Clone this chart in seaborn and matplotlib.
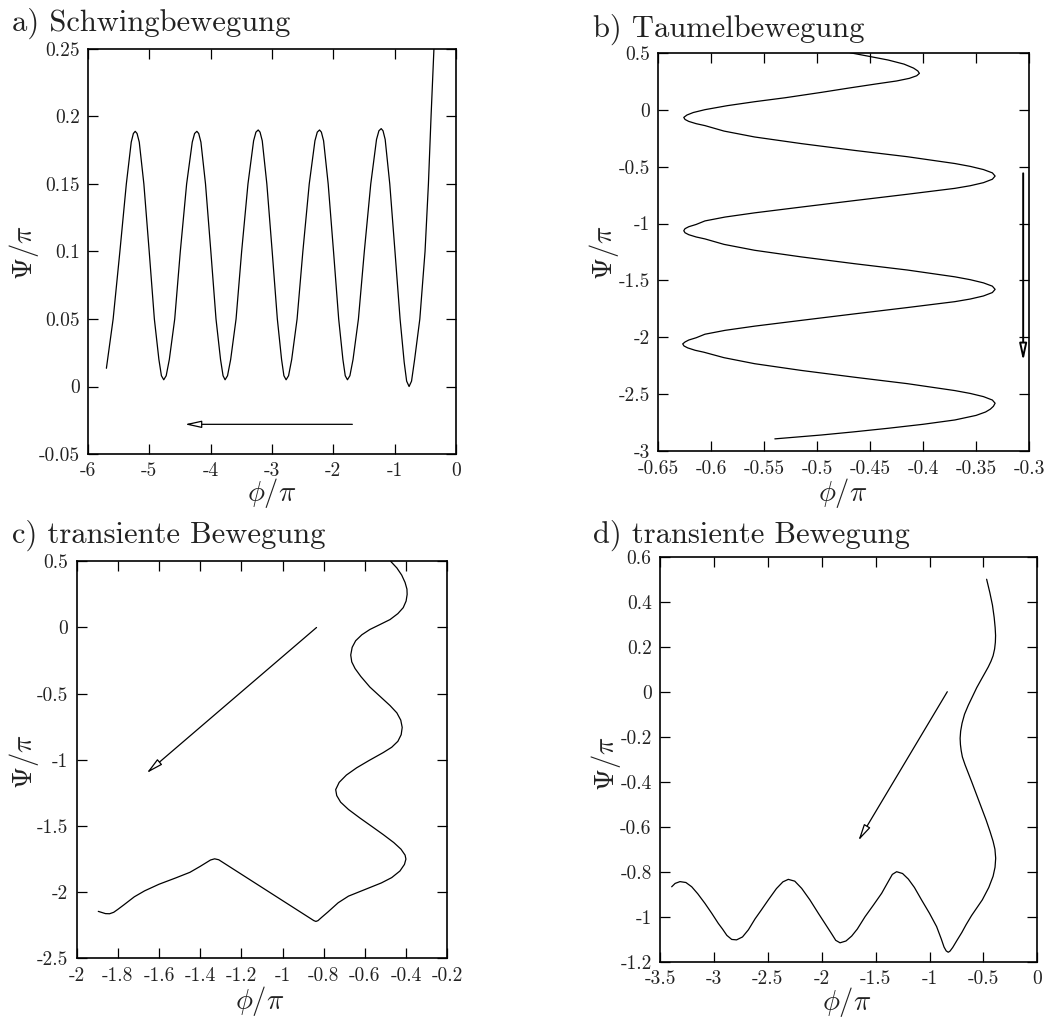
import matplotlib
matplotlib.use("Agg")
import matplotlib.pyplot as plt
import seaborn as sns
from matplotlib.ticker import FixedLocator, FixedFormatter

# ---------------- data: panel a (Schwingbewegung) ----------------
a_phi = [-5.70, -5.59, -5.48, -5.375, -5.295, -5.26, -5.23,
         -5.20, -5.164, -5.089, -5.002, -4.918, -4.844, -4.803, -4.765,
         -4.725, -4.674, -4.586, -4.495, -4.392, -4.30, -4.262, -4.225,
         -4.195, -4.159, -4.084, -3.997, -3.913, -3.839, -3.798, -3.765,
         -3.725, -3.674, -3.586, -3.495, -3.392, -3.30, -3.262, -3.225,
         -3.195, -3.159, -3.084, -2.997, -2.913, -2.844, -2.806, -2.77,
         -2.73, -2.679, -2.591, -2.497, -2.393, -2.30, -2.262, -2.225,
         -2.195, -2.159, -2.084, -1.997, -1.913, -1.844, -1.806, -1.77,
         -1.73, -1.679, -1.591, -1.495, -1.39, -1.296, -1.257, -1.22,
         -1.19, -1.155, -1.08, -0.995, -0.912, -0.845, -0.805, -0.765,
         -0.725, -0.675, -0.59, -0.505, -0.45, -0.407, -0.36, -0.33]
a_psi = [0.0135, 0.05, 0.10, 0.15, 0.181, 0.1874, 0.189,
         0.1874, 0.181, 0.15, 0.10, 0.05, 0.02, 0.008, 0.005,
         0.008, 0.02, 0.05, 0.10, 0.15, 0.181, 0.1874, 0.189,
         0.1874, 0.181, 0.15, 0.10, 0.05, 0.02, 0.008, 0.005,
         0.008, 0.02, 0.05, 0.10, 0.15, 0.182, 0.1884, 0.190,
         0.1884, 0.182, 0.15, 0.10, 0.05, 0.02, 0.008, 0.005,
         0.008, 0.02, 0.05, 0.10, 0.15, 0.182, 0.1884, 0.190,
         0.1884, 0.182, 0.15, 0.10, 0.05, 0.02, 0.008, 0.005,
         0.008, 0.02, 0.05, 0.10, 0.15, 0.183, 0.1894, 0.191,
         0.1894, 0.183, 0.15, 0.10, 0.05, 0.018, 0.004, 0.0,
         0.004, 0.02, 0.05, 0.10, 0.15, 0.20, 0.25, 0.28]
a_arrow = [(-1.69, -0.028), (-4.42, -0.028)]
a_xticks = [-6, -5, -4, -3, -2, -1, 0]
a_xlabels = ["-6", "-5", "-4", "-3", "-2", "-1", "0"]
a_yticks = [-0.05, 0.0, 0.05, 0.10, 0.15, 0.20, 0.25]
a_ylabels = ["-0.05", "0", "0.05", "0.1", "0.15", "0.2", "0.25"]

# ---------------- data: panel b (Taumelbewegung) ----------------
b_phi = [-0.469, -0.452, -0.433, -0.418, -0.409, -0.405, -0.4035, -0.406,
         -0.413, -0.425, -0.445, -0.47, -0.496, -0.53, -0.559, -0.585,
         -0.606, -0.617, -0.623,
         # left tip -> right tip
         -0.626, -0.6248, -0.6213, -0.6143, -0.606, -0.588, -0.559, -0.515,
         -0.4645, -0.415, -0.370, -0.3555, -0.343, -0.3346, -0.332,
         # right tip -> left tip
         -0.3346, -0.343, -0.3555, -0.370, -0.415, -0.4645, -0.513,
         -0.559, -0.587, -0.606, -0.6143, -0.6213, -0.6248, -0.626,
         # left tip -> right tip
         -0.6248, -0.6213, -0.6143, -0.606, -0.588, -0.559, -0.515,
         -0.4645, -0.415, -0.370, -0.3555, -0.343, -0.3346, -0.332,
         # right tip -> left tip
         -0.3346, -0.343, -0.3555, -0.370, -0.415, -0.4645, -0.513,
         -0.559, -0.587, -0.606, -0.6143, -0.6213, -0.6248, -0.627,
         # left tip -> right tip
         -0.6258, -0.6223, -0.6153, -0.607, -0.588, -0.559, -0.515,
         -0.4645, -0.415, -0.370, -0.3555, -0.343, -0.3346, -0.332,
         # final branch
         -0.3336, -0.3365, -0.341, -0.350, -0.370, -0.40, -0.433, -0.466,
         -0.496, -0.540]
b_psi = [0.50, 0.47, 0.436, 0.40, 0.365, 0.34, 0.319, 0.298,
         0.275, 0.252, 0.225, 0.19, 0.152, 0.105, 0.070, 0.035,
         0.0, -0.025, -0.047,
         -0.068, -0.086, -0.103, -0.123, -0.140, -0.188, -0.240, -0.298,
         -0.358, -0.413, -0.473, -0.498, -0.526, -0.555, -0.583,
         -0.611, -0.641, -0.668, -0.691, -0.743, -0.798, -0.853,
         -0.906, -0.943, -0.977, -1.008, -1.028, -1.045, -1.063,
         -1.081, -1.098, -1.118, -1.135, -1.183, -1.235, -1.293,
         -1.353, -1.408, -1.468, -1.493, -1.521, -1.550, -1.578,
         -1.606, -1.636, -1.663, -1.686, -1.738, -1.793, -1.848,
         -1.901, -1.938, -1.972, -2.003, -2.023, -2.040, -2.057,
         -2.075, -2.092, -2.113, -2.130, -2.178, -2.231, -2.290,
         -2.350, -2.406, -2.467, -2.492, -2.520, -2.550, -2.578,
         -2.605, -2.63, -2.655, -2.685, -2.725, -2.763, -2.798, -2.83,
         -2.857, -2.891]
b_arrow = [(-0.3055, -0.559), (-0.3055, -2.207)]
b_xticks = [-0.65, -0.60, -0.55, -0.50, -0.45, -0.40, -0.35, -0.30]
b_xlabels = ["-0.65", "-0.6", "-0.55", "-0.5", "-0.45", "-0.4", "-0.35", "-0.3"]
b_yticks = [-3.0, -2.5, -2.0, -1.5, -1.0, -0.5, 0.0, 0.5]
b_ylabels = ["-3", "-2.5", "-2", "-1.5", "-1", "-0.5", "0", "0.5"]

# ---------------- data: panel c (transiente Bewegung) ----------------
c_phi = [-0.475, -0.445, -0.4215, -0.405, -0.396, -0.395, -0.40, -0.414,
         -0.44, -0.478, -0.53, -0.576, -0.615, -0.645, -0.662, -0.669,
         -0.664, -0.648, -0.62, -0.576, -0.52, -0.478, -0.445, -0.426,
         -0.419, -0.424, -0.44, -0.47, -0.511, -0.58, -0.640, -0.69,
         -0.725, -0.742, -0.737, -0.718, -0.68, -0.624, -0.565, -0.511,
         -0.46, -0.425, -0.405, -0.401, -0.408, -0.43, -0.47, -0.52,
         -0.60, -0.68, -0.73, -0.78, -0.81, -0.828, -0.838, -0.848,
         -1.31, -1.33, -1.35, -1.40, -1.45, -1.52, -1.60, -1.67,
         -1.72, -1.77, -1.80, -1.82, -1.84, -1.86, -1.895]
c_psi = [0.50, 0.45, 0.396, 0.34, 0.29, 0.25, 0.20, 0.15,
         0.105, 0.06, 0.02, -0.015, -0.055, -0.10, -0.15, -0.208,
         -0.26, -0.31, -0.37, -0.45, -0.53, -0.59, -0.645, -0.70,
         -0.755, -0.81, -0.86, -0.905, -0.945, -1.005, -1.06, -1.115,
         -1.17, -1.225, -1.27, -1.32, -1.375, -1.44, -1.505, -1.565,
         -1.625, -1.675, -1.72, -1.75, -1.79, -1.84, -1.89, -1.93,
         -1.98, -2.03, -2.08, -2.15, -2.19, -2.215, -2.221, -2.215,
         -1.755, -1.748, -1.757, -1.805, -1.85, -1.893, -1.94, -1.99,
         -2.035, -2.095, -2.13, -2.152, -2.163, -2.162, -2.145]
c_arrow = [(-0.835, 0.0), (-1.66, -1.10)]
c_xticks = [-2.0, -1.8, -1.6, -1.4, -1.2, -1.0, -0.8, -0.6, -0.4, -0.2]
c_xlabels = ["-2", "-1.8", "-1.6", "-1.4", "-1.2", "-1", "-0.8", "-0.6", "-0.4", "-0.2"]
c_yticks = [-2.5, -2.0, -1.5, -1.0, -0.5, 0.0, 0.5]
c_ylabels = ["-2.5", "-2", "-1.5", "-1", "-0.5", "0", "0.5"]

# ---------------- data: panel d (transiente Bewegung) ----------------
d_phi = [-0.47, -0.44, -0.416, -0.40, -0.391, -0.387, -0.389, -0.396,
         -0.41, -0.43, -0.455, -0.484, -0.525, -0.562, -0.60, -0.64,
         -0.675, -0.698, -0.711, -0.716, -0.713, -0.706, -0.695, -0.67,
         -0.609, -0.516, -0.475, -0.438, -0.41, -0.393, -0.386, -0.392,
         -0.41, -0.45, -0.51, -0.56, -0.61, -0.66, -0.70, -0.745,
         -0.785, -0.81, -0.826, -0.845, -0.865, -0.89, -0.934, -1.0,
         -1.073, -1.14, -1.196, -1.25, -1.305, -1.345, -1.39, -1.444,
         -1.52, -1.598, -1.67, -1.722, -1.775, -1.830, -1.87, -1.908,
         -1.97, -2.031, -2.11, -2.186, -2.25, -2.310, -2.36, -2.42,
         -2.495, -2.56, -2.619, -2.68, -2.735, -2.79, -2.835, -2.88,
         -2.92, -2.959, -3.02, -3.083, -3.15, -3.206, -3.26, -3.315,
         -3.36, -3.392]
d_psi = [0.50, 0.44, 0.385, 0.33, 0.285, 0.25, 0.22, 0.19,
         0.16, 0.135, 0.11, 0.085, 0.05, 0.018, -0.02, -0.06,
         -0.10, -0.14, -0.175, -0.207, -0.235, -0.262, -0.29, -0.325,
         -0.40, -0.518, -0.57, -0.622, -0.665, -0.70, -0.74, -0.78,
         -0.82, -0.87, -0.925, -0.96, -0.995, -1.035, -1.07, -1.105,
         -1.137, -1.153, -1.158, -1.152, -1.135, -1.10, -1.044, -0.985,
         -0.926, -0.87, -0.833, -0.808, -0.80, -0.812, -0.85, -0.896,
         -0.948, -1.0, -1.055, -1.086, -1.108, -1.116, -1.105, -1.076,
         -1.03, -0.985, -0.925, -0.874, -0.842, -0.834, -0.845, -0.875,
         -0.925, -0.97, -1.01, -1.058, -1.09, -1.103, -1.101, -1.083,
         -1.055, -1.030, -0.985, -0.941, -0.898, -0.867, -0.848, -0.844,
         -0.852, -0.867]
d_arrow = [(-0.835, 0.0), (-1.66, -0.662)]
d_xticks = [-3.5, -3.0, -2.5, -2.0, -1.5, -1.0, -0.5, 0.0]
d_xlabels = ["-3.5", "-3", "-2.5", "-2", "-1.5", "-1", "-0.5", "0"]
d_yticks = [-1.2, -1.0, -0.8, -0.6, -0.4, -0.2, 0.0, 0.2, 0.4, 0.6]
d_ylabels = ["-1.2", "-1", "-0.8", "-0.6", "-0.4", "-0.2", "0", "0.2", "0.4", "0.6"]

titles = ["a) Schwingbewegung", "b) Taumelbewegung",
          "c) transiente Bewegung", "d) transiente Bewegung"]

# ---------------- styling ----------------
sns.set_theme(style="ticks")
plt.rcParams["font.family"] = ["cmr10", "DejaVu Serif"]
plt.rcParams["mathtext.fontset"] = "cm"
plt.rcParams["axes.unicode_minus"] = False
plt.rcParams["axes.formatter.use_mathtext"] = True

fig = plt.figure(figsize=(10.5, 10.18), dpi=100)

panels = [
    dict(rect=[0.0838, 0.554, 0.3505, 0.3979], x=a_phi, y=a_psi, arrow=a_arrow,
         xt=a_xticks, xl=a_xlabels, yt=a_yticks, yl=a_ylabels,
         ylab=(-0.175, 0.496), xlab=(0.5, -0.097), title=(0.0114, 0.9695), alw=0.9),
    dict(rect=[0.627, 0.5567, 0.353, 0.3915], x=b_phi, y=b_psi, arrow=b_arrow,
         xt=b_xticks, xl=b_xlabels, yt=b_yticks, yl=b_ylabels,
         ylab=(-0.146, 0.497), xlab=(0.498, -0.105), title=(0.5648, 0.964), alw=1.4),
    dict(rect=[0.073, 0.0586, 0.353, 0.39], x=c_phi, y=c_psi, arrow=c_arrow,
         xt=c_xticks, xl=c_xlabels, yt=c_yticks, yl=c_ylabels,
         ylab=(-0.143, 0.494), xlab=(0.494, -0.107), title=(0.0114, 0.4673), alw=0.9),
    dict(rect=[0.6286, 0.0553, 0.3593, 0.3978], x=d_phi, y=d_psi, arrow=d_arrow,
         xt=d_xticks, xl=d_xlabels, yt=d_yticks, yl=d_ylabels,
         ylab=(-0.144, 0.49), xlab=(0.495, -0.10), title=(0.5648, 0.4666), alw=0.9),
]

for p, title in zip(panels, titles):
    ax = fig.add_axes(p["rect"])
    sns.lineplot(x=p["x"], y=p["y"], sort=False, estimator=None,
                 color="black", linewidth=0.9, ax=ax)
    (sx, sy), (tx, ty) = p["arrow"]
    ax.annotate("", xy=(tx, ty), xytext=(sx, sy),
                arrowprops=dict(arrowstyle="-|>,head_length=1.0,head_width=0.22",
                                facecolor="white", edgecolor="black",
                                lw=p["alw"], shrinkA=0, shrinkB=0,
                                mutation_scale=10))
    ax.set_xlim(p["xt"][0], p["xt"][-1])
    ax.set_ylim(p["yt"][0], p["yt"][-1])
    ax.xaxis.set_major_locator(FixedLocator(p["xt"]))
    ax.xaxis.set_major_formatter(FixedFormatter(p["xl"]))
    ax.yaxis.set_major_locator(FixedLocator(p["yt"]))
    ax.yaxis.set_major_formatter(FixedFormatter(p["yl"]))
    ax.tick_params(direction="in", length=7, width=0.9, top=True, right=True,
                   labelsize=14, pad=6, colors="black", labelcolor="#222222")
    for s in ax.spines.values():
        s.set_linewidth(1.2)
        s.set_color("black")
        s.set_visible(True)
    ax.set_xlabel(r"$\phi/\pi$", fontsize=20.5, color="#222222")
    ax.set_ylabel(r"$\Psi/\pi$", fontsize=20.5, color="#222222")
    ax.xaxis.set_label_coords(*p["xlab"])
    ax.yaxis.set_label_coords(*p["ylab"])
    ax.xaxis.label.set_va("center")
    ax.yaxis.label.set_va("center")
    ax.set_facecolor("white")
    fig.text(p["title"][0], p["title"][1], title, fontsize=22,
             ha="left", va="baseline", color="#222222")

fig.savefig("out.png", dpi=100, facecolor="white")
